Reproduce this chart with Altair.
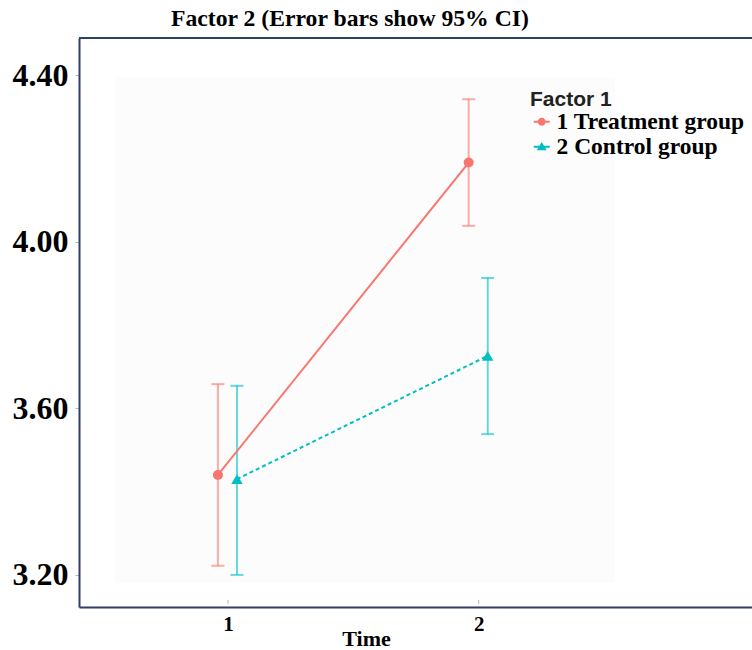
import altair as alt
import pandas as pd

# ---- data ----
groups = ["1 Treatment group", "2 Control group"]
time_points = [1, 2]
treatment_mean = [3.44, 4.19]
treatment_lo = [3.222, 4.038]
treatment_hi = [3.658, 4.342]
control_mean = [3.430, 3.726]
control_lo = [3.200, 3.538]
control_hi = [3.654, 3.913]
y_ticks = [3.2, 3.6, 4.0, 4.4]
x_ticks = [1, 2]

rows = []
for t, m, lo, hi in zip(time_points, treatment_mean, treatment_lo, treatment_hi):
    rows.append({"time": t, "group": groups[0], "mean": m, "lo": lo, "hi": hi})
for t, m, lo, hi in zip(time_points, control_mean, control_lo, control_hi):
    rows.append({"time": t, "group": groups[1], "mean": m, "lo": lo, "hi": hi})
df = pd.DataFrame(rows)

W, H = 673, 569
NAVY = "#2f3f66"
RED = "#F8766D"
TEAL = "#00BFC4"
SERIF = "Liberation Serif"
SANS = "Liberation Sans"

xscale = alt.Scale(domain=[0.406, 3.09], nice=False, zero=False)
yscale = alt.Scale(domain=[3.123, 4.489], nice=False, zero=False)
color_scale = alt.Scale(domain=groups, range=[RED, TEAL])

base = alt.Chart(df).transform_calculate(
    xd=f"datum.time + (datum.group == '{groups[0]}' ? -0.04 : 0.036)"
)

xaxis = alt.Axis(values=x_ticks, format="d", tickSize=0, grid=False,
                 domainColor=NAVY, domainWidth=2,
                 labelFont=SERIF, labelFontWeight="bold", labelFontSize=21,
                 labelColor="black", labelPadding=6,
                 titleFont=SERIF, titleFontWeight="bold", titleFontSize=22,
                 titleColor="black", titlePadding=-6, titleX=287, titleAlign="center")
yaxis = alt.Axis(values=y_ticks, format=".2f", tickSize=4, tickColor="#bbbbbb",
                 grid=False, domainColor=NAVY, domainWidth=2,
                 labelFont=SERIF, labelFontWeight="bold", labelFontSize=32,
                 labelColor="black", labelPadding=7, title=None)

panel = alt.Chart(pd.DataFrame({"a": [0]})).mark_rect(color="#fcfcfc").encode(
    x=alt.value(36), x2=alt.value(536), y=alt.value(40), y2=alt.value(545)
)

top_border = alt.Chart(pd.DataFrame({"a": [0]})).mark_rule(color=NAVY, strokeWidth=2).encode(
    x=alt.value(0), x2=alt.value(W), y=alt.value(0)
)

color_enc = alt.Color("group:N", scale=color_scale, legend=None)

err = base.mark_rule(strokeWidth=2, opacity=0.6).encode(
    x=alt.X("xd:Q", scale=xscale, title="Time", axis=xaxis),
    y=alt.Y("lo:Q", scale=yscale, axis=yaxis), y2="hi:Q", color=color_enc
)

xtick_marks = alt.Chart(pd.DataFrame({"t": x_ticks})).mark_rule(color="#bbbbbb", strokeWidth=1).encode(
    x=alt.X("t:Q", scale=xscale),
    y=alt.value(H - 7), y2=alt.value(H - 3)
)

cap_lo = base.mark_tick(orient="horizontal", size=13, thickness=2, opacity=0.6).encode(
    x="xd:Q", y="lo:Q", color=color_enc
)
cap_hi = base.mark_tick(orient="horizontal", size=13, thickness=2, opacity=0.6).encode(
    x="xd:Q", y="hi:Q", color=color_enc
)

line_t = base.transform_filter(f"datum.group == '{groups[0]}'").mark_line(strokeWidth=2).encode(
    x="xd:Q", y="mean:Q", color=color_enc
)
line_c = base.transform_filter(f"datum.group == '{groups[1]}'").mark_line(
    strokeWidth=2, strokeDash=[4, 3]).encode(
    x="xd:Q", y="mean:Q", color=color_enc
)

pts = base.mark_point(filled=True, opacity=1).encode(
    x="xd:Q", y="mean:Q", color=color_enc,
    shape=alt.Shape("group:N", scale=alt.Scale(domain=groups, range=["circle", "triangle-up"]), legend=None),
    size=alt.Size("group:N", scale=alt.Scale(domain=groups, range=[100, 130]), legend=None),
)

circ_path = "M-1,-0.12H1V0.12H-1Z M0.5,0A0.5,0.5 0 1,1 -0.5,0A0.5,0.5 0 1,1 0.5,0Z"
tri_path = "M-1,-0.12H1V0.12H-1Z M0,-0.6L0.62,0.45L-0.62,0.45Z"

leg = alt.Legend(orient="none", legendX=451, legendY=51, title="Factor 1",
                 titleFont=SANS, titleFontWeight="bold", titleFontSize=21,
                 titleColor="#222222", titlePadding=0,
                 labelFont=SERIF, labelFontWeight="bold", labelFontSize=23.5,
                 labelColor="black", labelLimit=0, symbolSize=256, symbolStrokeWidth=0,
                 labelOffset=3, rowPadding=0, symbolOpacity=1)

legend_layer = base.transform_filter("false").mark_point(filled=True, opacity=1).encode(
    x="xd:Q", y="mean:Q",
    color=alt.Color("group:N", scale=color_scale, title="Factor 1", legend=leg),
    shape=alt.Shape("group:N", scale=alt.Scale(domain=groups, range=[circ_path, tri_path]),
                    title="Factor 1", legend=leg),
)

chart = alt.layer(
    panel, err, xtick_marks, cap_lo, cap_hi, line_t, line_c, pts, top_border, legend_layer
).resolve_scale(color="independent", shape="independent", size="independent").properties(
    width=W, height=H,
    title=alt.TitleParams("Factor 2 (Error bars show 95% CI)", anchor="start", dx=159,
                          font=SERIF, fontWeight="bold", fontSize=23.7, color="black", offset=6),
    autosize=alt.AutoSizeParams(type="none"),
    padding={"left": 79, "top": 38, "right": 0, "bottom": 43},
).configure_view(stroke=None).configure(background="white")

chart.save("out.html", embed_options={"renderer": "svg", "actions": False})
